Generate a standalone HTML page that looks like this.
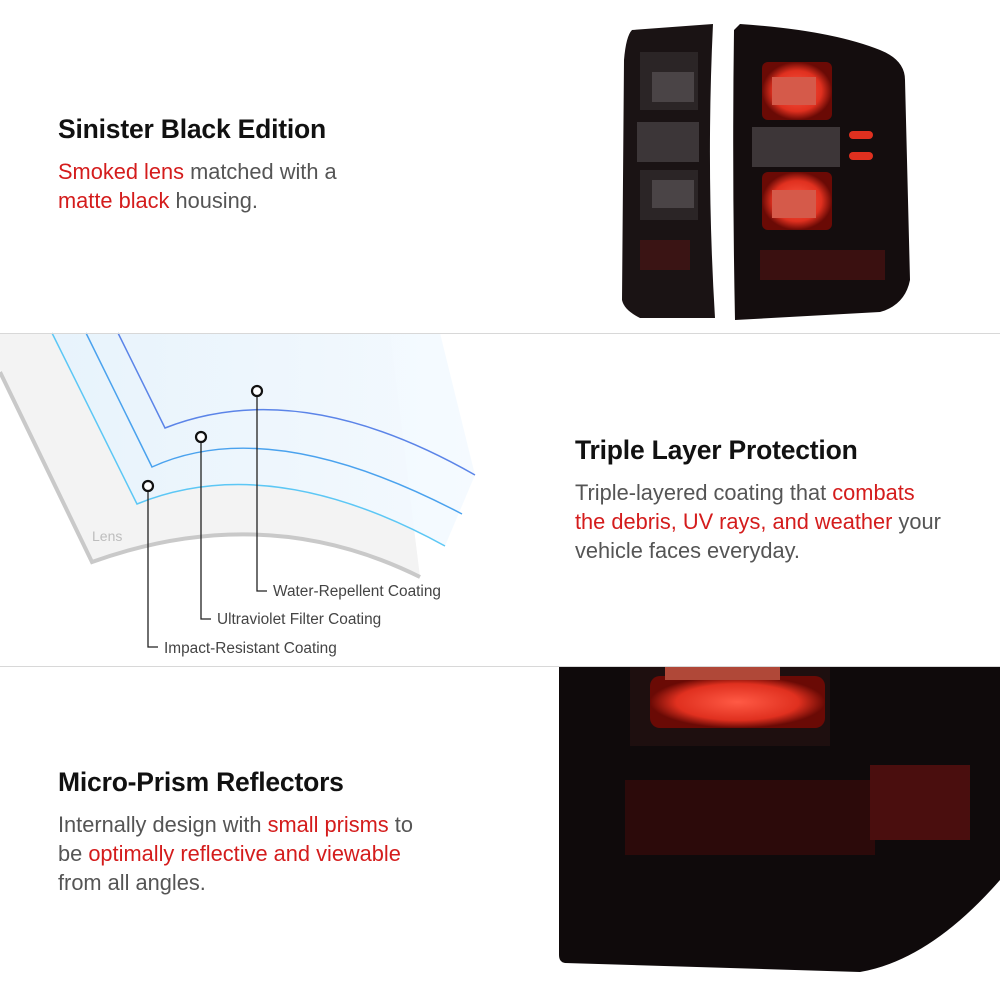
<!DOCTYPE html>
<html><head><meta charset="utf-8"><style>
*{margin:0;padding:0;box-sizing:border-box}
body{width:1000px;height:1000px;background:#fff;position:relative;overflow:hidden;font-family:"Liberation Sans",sans-serif}
.h{position:absolute;font-size:26.5px;font-weight:bold;color:#111;white-space:nowrap;letter-spacing:-0.2px}
.p{position:absolute;font-size:21.8px;line-height:29px;color:#555;white-space:nowrap}
.r{color:#d41c1c}
.hr{position:absolute;left:0;width:1000px;height:1px;background:#d8d8d8}
</style></head><body>
<svg width="1000" height="1000" style="position:absolute;left:0;top:0">
<defs>
<radialGradient id="glow" cx="50%" cy="50%" r="50%"><stop offset="0" stop-color="#ff5a45"/><stop offset="0.7" stop-color="#e0301f"/><stop offset="1" stop-color="#6a0a05"/></radialGradient>
<linearGradient id="blue" x1="0" y1="0" x2="1" y2="0"><stop offset="0" stop-color="#e6f3fd"/><stop offset="1" stop-color="#f4faff"/></linearGradient>
</defs>
<path d="M632 30 L713 24 Q706 170 715 318 L640 318 Q624 310 622 300 L624 60 Q626 36 632 30Z" fill="#1a1314"/>
<rect x="640" y="52" width="58" height="58" fill="#2b2526"/>
<rect x="652" y="72" width="42" height="30" fill="#4a4446"/>
<rect x="637" y="122" width="62" height="40" fill="#3c3638"/>
<rect x="640" y="170" width="58" height="50" fill="#2b2526"/>
<rect x="652" y="180" width="42" height="28" fill="#4a4446"/>
<rect x="640" y="240" width="50" height="30" fill="#3a1414"/>
<path d="M740 24 Q830 30 880 50 Q905 60 905 80 L910 280 Q905 305 880 312 L735 320 Q732 170 734 30Z" fill="#140d0e"/>
<rect x="762" y="62" width="70" height="58" rx="6" fill="url(#glow)"/>
<rect x="772" y="77" width="44" height="28" fill="#d55a4a"/>
<rect x="752" y="127" width="88" height="40" fill="#3d3638"/>
<rect x="762" y="172" width="70" height="58" rx="6" fill="url(#glow)"/>
<rect x="772" y="190" width="44" height="28" fill="#d55a4a"/>
<rect x="849" y="131" width="24" height="8" rx="4" fill="#e0301f"/>
<rect x="849" y="152" width="24" height="8" rx="4" fill="#e0301f"/>
<rect x="760" y="250" width="125" height="30" fill="#3a1010"/>
<path d="M0 370 L92 562 Q265 500 420 577 L390 333 L0 333Z" fill="#f3f3f3"/>
<path d="M0 372 L92 562 Q265 500 420 577" fill="none" stroke="#c9c9c9" stroke-width="4"/>
<path d="M52 333 L137 504 Q270 450 445 546 L475 475 L440 333Z" fill="url(#blue)" opacity="0.9"/>
<path d="M52 333 L137 504 Q270 450 445 546" fill="none" stroke="#5cc7f5" stroke-width="1.5"/>
<path d="M86 333 L152 467 Q270 413 462 514" fill="none" stroke="#4aa2ee" stroke-width="1.5"/>
<path d="M118 333 L165 428 Q300 375 475 475" fill="none" stroke="#5b84e8" stroke-width="1.5"/>
<text x="92" y="541" font-size="14" fill="#bdbdbd" font-family="Liberation Sans">Lens</text>
<g fill="none" stroke="#222" stroke-width="1.3">
<path d="M148 491 V647 H158"/><path d="M201 442 V619 H211"/><path d="M257 396 V591 H267"/>
</g>
<g fill="#fff" stroke="#111" stroke-width="2.2">
<circle cx="148" cy="486" r="5"/><circle cx="201" cy="437" r="5"/><circle cx="257" cy="391" r="5"/>
</g>
<g font-size="15.4" fill="#444" font-family="Liberation Sans">
<text x="273" y="596">Water-Repellent Coating</text>
<text x="217" y="624">Ultraviolet Filter Coating</text>
<text x="164" y="653">Impact-Resistant Coating</text>
</g>
<path d="M559 666 L1000 666 L1000 880 Q930 960 860 972 L565 963 Q559 962 559 955Z" fill="#0f0a0b"/>
<rect x="630" y="666" width="200" height="80" fill="#1e0f0f"/>
<rect x="650" y="676" width="175" height="52" rx="10" fill="url(#glow)"/>
<rect x="665" y="666" width="115" height="14" fill="#b04838"/>
<rect x="625" y="780" width="250" height="75" fill="#2c0a0a"/>
<rect x="870" y="765" width="100" height="75" fill="#4a0e0e"/>
</svg>
<div class="hr" style="top:333px"></div>
<div class="hr" style="top:666px"></div>
<div class="h" style="left:58px;top:114px">Sinister Black Edition</div>
<div class="p" style="left:58px;top:157px"><span class="r">Smoked lens</span> matched with a<br><span class="r">matte black</span> housing.</div>
<div class="h" style="left:575px;top:435px">Triple Layer Protection</div>
<div class="p" style="left:575px;top:478px">Triple-layered coating that <span class="r">combats</span><br><span class="r">the debris, UV rays, and weather</span> your<br>vehicle faces everyday.</div>
<div class="h" style="left:58px;top:767px">Micro-Prism Reflectors</div>
<div class="p" style="left:58px;top:810px">Internally design with <span class="r">small prisms</span> to<br>be <span class="r">optimally reflective and viewable</span><br>from all angles.</div>
</body></html>
